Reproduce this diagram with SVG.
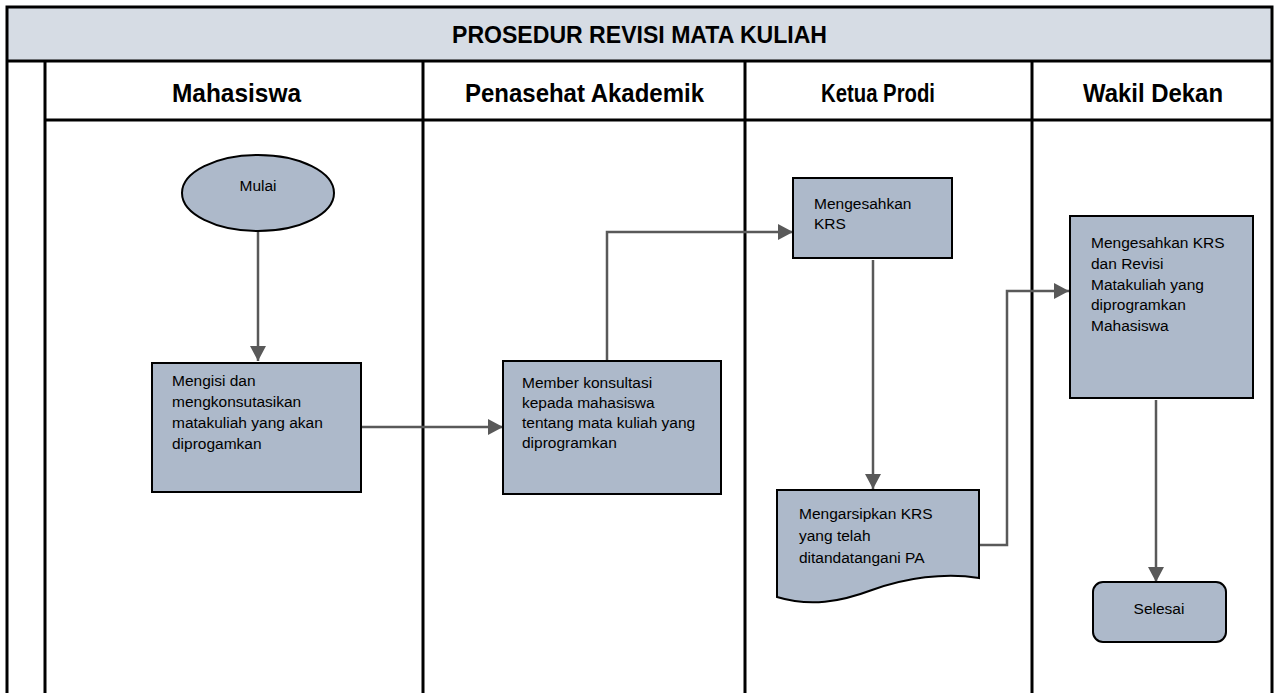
<svg xmlns="http://www.w3.org/2000/svg" width="1277" height="693" viewBox="0 0 1277 693">
<style>
.grid{stroke:#000;stroke-width:3;fill:none}
.node{fill:#adb9ca;stroke:#000;stroke-width:2}
.conn{stroke:#595959;stroke-width:2.5;fill:none}
.title{font-family:"Liberation Sans",Arial,sans-serif;font-weight:bold;font-size:24px;fill:#000}
.hdr{font-family:"Liberation Sans",Arial,sans-serif;font-weight:bold;font-size:25px;fill:#000}
.t{font-family:"Liberation Sans",Arial,sans-serif;font-size:15.5px;fill:#000}
</style>
<defs>
<marker id="arr" markerUnits="userSpaceOnUse" markerWidth="17" markerHeight="16" refX="15" refY="8" orient="auto">
<path d="M0,0 L15,8 L0,16 Z" fill="#595959"/>
</marker>
</defs>
<rect width="1277" height="693" fill="#fff"/>
<g id="frame">
<rect x="7" y="7" width="1265" height="54" fill="#d6dce4"/>
<path class="grid" d="M7,693 V7 H1272 V693 M7,61 H1272 M45,61 V693 M45,120 H1272 M423,61 V693 M745,61 V693 M1032,61 V693"/>
<text class="title" x="639.5" y="42.5" text-anchor="middle" textLength="375" lengthAdjust="spacingAndGlyphs">PROSEDUR REVISI MATA KULIAH</text>
<text class="hdr" x="236.5" y="101.5" text-anchor="middle" textLength="129" lengthAdjust="spacingAndGlyphs">Mahasiswa</text>
<text class="hdr" x="584.5" y="101.5" text-anchor="middle" textLength="239" lengthAdjust="spacingAndGlyphs">Penasehat Akademik</text>
<text class="hdr" x="878" y="101.5" text-anchor="middle" textLength="114" lengthAdjust="spacingAndGlyphs">Ketua Prodi</text>
<text class="hdr" x="1153" y="101.5" text-anchor="middle" textLength="140" lengthAdjust="spacingAndGlyphs">Wakil Dekan</text>
</g>
<g id="connectors">
<path class="conn" marker-end="url(#arr)" d="M258,232 V361"/>
<path class="conn" marker-end="url(#arr)" d="M361,427 H503"/>
<path class="conn" marker-end="url(#arr)" d="M607,361 V232 H793"/>
<path class="conn" marker-end="url(#arr)" d="M873,260 V489"/>
<path class="conn" marker-end="url(#arr)" d="M979,545 H1007 V291 H1069"/>
<path class="conn" marker-end="url(#arr)" d="M1156,400 V582"/>
</g>
<g id="mulai">
<ellipse class="node" cx="258" cy="193" rx="76" ry="38"/>
<text class="t" x="258" y="191" text-anchor="middle">Mulai</text>
</g>
<g id="mengisi">
<rect class="node" x="152" y="363" width="209" height="129"/>
<text class="t" x="172" y="386">Mengisi dan</text>
<text class="t" x="172" y="407">mengkonsutasikan</text>
<text class="t" x="172" y="428">matakuliah yang akan</text>
<text class="t" x="172" y="449">diprogamkan</text>
</g>
<g id="konsultasi">
<rect class="node" x="503" y="361" width="218" height="133"/>
<text class="t" x="522" y="388">Member konsultasi</text>
<text class="t" x="522" y="408">kepada mahasiswa</text>
<text class="t" x="522" y="428">tentang mata kuliah yang</text>
<text class="t" x="522" y="448">diprogramkan</text>
</g>
<g id="mengesahkan-krs">
<rect class="node" x="793" y="178" width="159" height="80"/>
<text class="t" x="814" y="209">Mengesahkan</text>
<text class="t" x="814" y="229">KRS</text>
</g>
<g id="mengarsipkan">
<path class="node" d="M777,490 H979 V578 C945,572 905,578 872,590 C840,602 810,607 777,597 Z"/>
<text class="t" x="799" y="519">Mengarsipkan KRS</text>
<text class="t" x="799" y="541">yang telah</text>
<text class="t" x="799" y="563">ditandatangani PA</text>
</g>
<g id="mengesahkan-revisi">
<rect class="node" x="1070" y="216" width="183" height="182"/>
<text class="t" x="1091" y="248">Mengesahkan KRS</text>
<text class="t" x="1091" y="269">dan Revisi</text>
<text class="t" x="1091" y="290">Matakuliah yang</text>
<text class="t" x="1091" y="310">diprogramkan</text>
<text class="t" x="1091" y="331">Mahasiswa</text>
</g>
<g id="selesai">
<rect class="node" x="1093" y="582" width="133" height="60" rx="10" ry="10"/>
<text class="t" x="1159" y="614" text-anchor="middle">Selesai</text>
</g>
</svg>
